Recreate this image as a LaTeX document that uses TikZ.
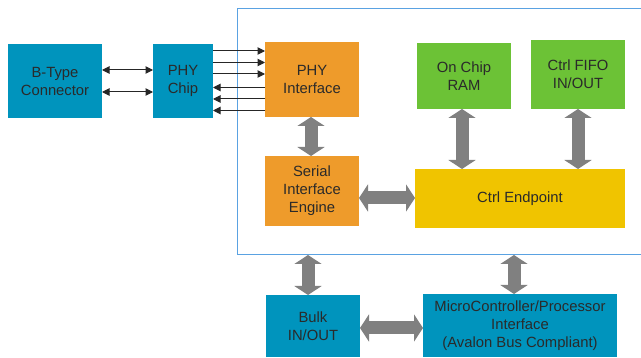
\documentclass[tikz,border=0pt]{standalone}
\usepackage{fontspec}
\setmainfont{Liberation Sans}
\usetikzlibrary{arrows.meta}
\definecolor{cblue}{HTML}{0094BD}
\definecolor{corange}{HTML}{EE9B2B}
\definecolor{cgreen}{HTML}{6CC236}
\definecolor{cyellow}{HTML}{F0C400}
\definecolor{garrow}{HTML}{808080}
\definecolor{txt}{HTML}{2A2A2A}
\definecolor{coreline}{HTML}{5AA2E2}
\begin{document}
\begin{tikzpicture}[x=1pt,y=-1pt,
  box/.style={draw=none, inner sep=0pt, outer sep=0pt, anchor=north west, align=center, text=txt,
    font=\fontsize{14.8}{18}\selectfont},
  fat/.style={draw=garrow, line width=13pt, {Triangle[length=9pt,width=27pt]}-{Triangle[length=9pt,width=27pt]}},
  thinr/.style={draw=black!85, line width=1pt, -{Triangle[length=7.5pt,width=7.5pt]}},
  thinb/.style={draw=black!85, line width=1pt, {Triangle[length=7.5pt,width=7.5pt]}-{Triangle[length=7.5pt,width=7.5pt]}}]
\useasboundingbox (0,0) rectangle (641,358);
% outer core frame
\node[inner sep=0pt, outer sep=0pt, anchor=north west, minimum width=413pt, minimum height=246pt] (core) at (237.5,9) {};
\draw[coreline, line width=1pt] (core.north east) -- (core.north west) -- (core.south west) -- (core.south east);
% boxes
\node[box, fill=cblue, minimum width=94pt, minimum height=74pt] (btype) at (8,44) {B-Type\\Connector};
\node[box, fill=cblue, minimum width=60pt, minimum height=74pt] (phychip) at (153,44) {PHY\\Chip};
\node[box, fill=corange, minimum width=94pt, minimum height=75pt] (phyif) at (265,42) {PHY\\Interface};
\node[box, fill=corange, minimum width=94pt, minimum height=70pt] (sie) at (265,156) {Serial\\Interface\\Engine};
\node[box, fill=cgreen, minimum width=94pt, minimum height=66pt] (ram) at (417,43) {On Chip\\RAM};
\node[box, fill=cgreen, minimum width=94pt, minimum height=69pt] (fifo) at (531,40) {Ctrl FIFO\\IN/OUT};
\node[box, fill=cyellow, minimum width=210pt, minimum height=59pt] (ctrl) at (415,169) {Ctrl Endpoint};
\node[box, fill=cblue, minimum width=94pt, minimum height=62pt] (bulk) at (266,295) {Bulk\\IN/OUT};
\node[box, fill=cblue, minimum width=194pt, minimum height=63pt] (micro) at (423,294) {MicroController/Processor\\Interface\\(Avalon Bus Compliant)};
% thin arrows
\draw[thinb] (btype.east |- 0,70) -- (phychip.west |- 0,70);
\draw[thinb] (btype.east |- 0,92) -- (phychip.west |- 0,92);
\foreach \yy in {51,62.5,74} {
  \draw[thinr] (phychip.east |- 0,\yy) -- (phyif.west |- 0,\yy);
}
\foreach \yy in {87.5,99,110.5} {
  \draw[thinr] (phyif.west |- 0,\yy) -- (phychip.east |- 0,\yy);
}
% fat arrows
\draw[fat] (311,0 |- phyif.south) -- (311,0 |- sie.north);
\draw[fat] (sie.east |- 0,198) -- (ctrl.west |- 0,198);
\draw[fat] (462,0 |- ram.south) -- (462,0 |- ctrl.north);
\draw[fat] (578,0 |- fifo.south) -- (578,0 |- ctrl.north);
\draw[fat] (308,0 |- core.south) -- (308,0 |- bulk.north);
\draw[fat] (514,0 |- core.south) -- (514,0 |- micro.north);
\draw[fat] (bulk.east |- 0,328) -- (micro.west |- 0,328);
\end{tikzpicture}
\end{document}
